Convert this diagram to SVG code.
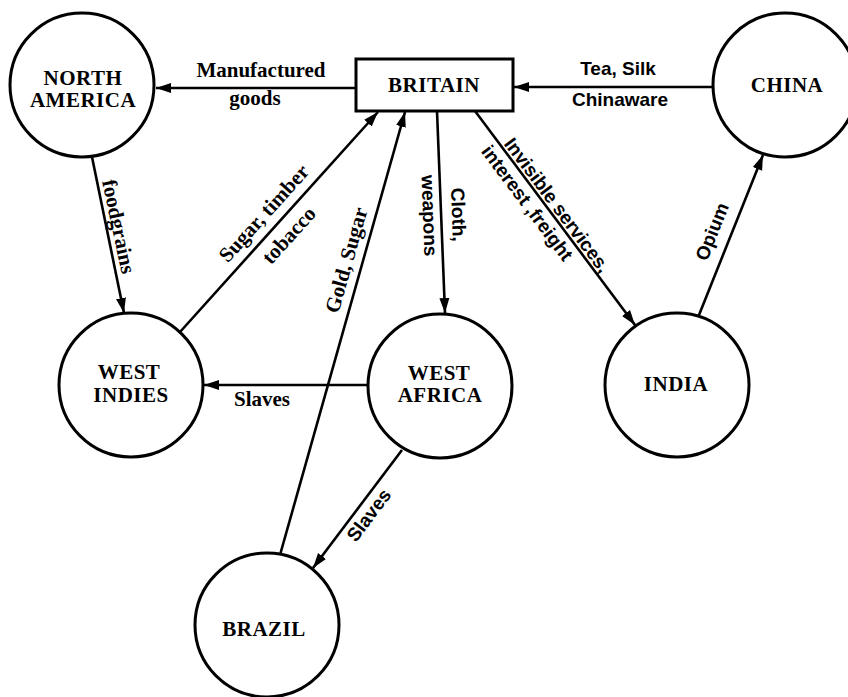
<svg xmlns="http://www.w3.org/2000/svg" width="848" height="697" viewBox="0 0 848 697">
<style>
.bg{fill:#ffffff}
.shape{fill:#ffffff;stroke:#000;stroke-width:3}
.edge{fill:none;stroke:#000;stroke-width:2.6;marker-end:url(#ah)}
.node{font-family:"Liberation Serif",serif;font-weight:bold;font-size:21px;text-anchor:middle;fill:#000;letter-spacing:0.5px}
.lbl{font-family:"Liberation Serif",serif;font-weight:bold;font-size:21px;text-anchor:middle;fill:#000}
.lbs{font-family:"Liberation Sans",Arial,sans-serif;font-weight:bold;font-size:19px;text-anchor:middle;fill:#000}
</style>
<defs>
<marker id="ah" markerUnits="userSpaceOnUse" markerWidth="16" markerHeight="12" refX="15" refY="6" orient="auto">
<path d="M0,1 L15,6 L0,11 Z" fill="#000"/>
</marker>
</defs>
<rect class="bg" x="0" y="0" width="848" height="697"/>

<g id="connectors">
<line class="edge" x1="356" y1="88" x2="156" y2="88"/>
<line class="edge" x1="713" y1="87" x2="514" y2="87"/>
<line class="edge" x1="92" y1="157" x2="124" y2="313"/>
<line class="edge" x1="180" y1="332" x2="378" y2="112"/>
<line class="edge" x1="280" y1="555" x2="405" y2="112"/>
<line class="edge" x1="437" y1="111" x2="445" y2="313"/>
<line class="edge" x1="368" y1="385" x2="204" y2="385"/>
<line class="edge" x1="402" y1="450" x2="313" y2="568"/>
<line class="edge" x1="475" y1="111" x2="635" y2="325"/>
<line class="edge" x1="699" y1="315" x2="763" y2="155"/>

<text class="lbl" x="261" y="77" font-size="22">Manufactured</text>
<text class="lbl" x="255" y="105" font-size="22">goods</text>
<text class="lbs" x="618" y="75" font-size="20">Tea, Silk</text>
<text class="lbs" x="620" y="106" font-size="20">Chinaware</text>
<text class="lbl" transform="translate(112,228) rotate(78)" font-weight="normal" font-size="22">foodgrains</text>
<text class="lbl" transform="translate(269,218) rotate(-47.9)" font-weight="normal" font-size="22">Sugar, timber</text>
<text class="lbl" transform="translate(294,240) rotate(-47.9)" font-weight="normal" font-size="22">tobacco</text>
<text class="lbl" transform="translate(353,262) rotate(-74.3)" font-weight="normal" font-size="22">Gold, Sugar</text>
<text class="lbs" transform="translate(452,215) rotate(88)" font-size="20">Cloth,</text>
<text class="lbs" transform="translate(423,216) rotate(88)" font-size="20">weapons</text>
<text class="lbs" transform="translate(552,209) rotate(53.2)">Invisible services,</text>
<text class="lbs" transform="translate(522,207) rotate(53.2)">interest ,freight</text>
<text class="lbs" transform="translate(718,234) rotate(-68.3)" font-size="20">Opium</text>
<text class="lbl" x="262" y="406" font-size="21">Slaves</text>
<text class="lbs" transform="translate(374,519) rotate(-53)">Slaves</text>
</g>

<g id="britain">
<rect class="shape" x="356" y="59" width="157" height="52"/>
<text class="node" x="434" y="92">BRITAIN</text>
</g>
<g id="north-america">
<circle class="shape" cx="82" cy="85" r="72"/>
<text class="node" x="83" y="85">NORTH</text>
<text class="node" x="83" y="107">AMERICA</text>
</g>
<g id="china">
<circle class="shape" cx="785" cy="85" r="72"/>
<text class="node" x="787" y="92">CHINA</text>
</g>
<g id="west-indies">
<circle class="shape" cx="131" cy="385" r="72"/>
<text class="node" x="129" y="379">WEST</text>
<text class="node" x="131" y="402">INDIES</text>
</g>
<g id="west-africa">
<circle class="shape" cx="440" cy="386" r="72"/>
<text class="node" x="439" y="380">WEST</text>
<text class="node" x="440" y="402">AFRICA</text>
</g>
<g id="india">
<circle class="shape" cx="677" cy="385" r="72"/>
<text class="node" x="676" y="391">INDIA</text>
</g>
<g id="brazil">
<circle class="shape" cx="267" cy="625" r="72"/>
<text class="node" x="264" y="636">BRAZIL</text>
</g>
</svg>
